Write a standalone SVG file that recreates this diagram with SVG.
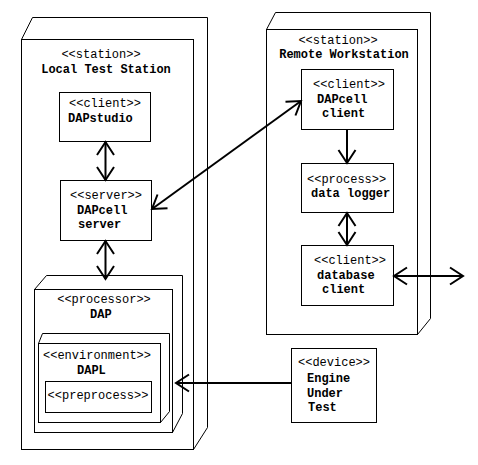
<svg xmlns="http://www.w3.org/2000/svg" width="478" height="465" viewBox="0 0 478 465">
<style>
.box{fill:none;stroke:#000;stroke-width:1}
.st{font-family:"Liberation Mono","Courier New",monospace;font-size:12px;fill:#000}
.nm{font-family:"Liberation Mono","Courier New",monospace;font-size:12px;font-weight:bold;fill:#000}
.c{text-anchor:middle}
.con{fill:none;stroke:#000;stroke-width:2}
</style>
<defs>
<marker id="arr" viewBox="-15 -10 17 20" refX="0" refY="0" markerWidth="17" markerHeight="20" markerUnits="userSpaceOnUse" orient="auto-start-reverse">
<path d="M-13,-8.5 L0,0 L-13,8.5" fill="none" stroke="#000" stroke-width="2"/>
</marker>
</defs>
<rect width="478" height="465" fill="#fff"/>

<g id="local-station">
<rect class="box" x="21.5" y="39.5" width="172" height="410"/>
<path class="box" d="M21.5,39.5 L32.5,17.5 L207.5,17.5 L207.5,427.5 L193.5,449.5"/>
<text class="st c" x="101" y="58">&lt;&lt;station&gt;&gt;</text>
<text class="nm c" x="106" y="73">Local Test Station</text>
</g>

<g id="dapstudio">
<rect class="box" x="59.5" y="92.5" width="91" height="49"/>
<text class="st" x="69" y="107">&lt;&lt;client&gt;&gt;</text>
<text class="nm" x="68" y="122">DAPstudio</text>
</g>

<g id="dapcell-server">
<rect class="box" x="60.5" y="180.5" width="91" height="60"/>
<text class="st" x="70" y="199">&lt;&lt;server&gt;&gt;</text>
<text class="nm" x="77" y="214">DAPcell</text>
<text class="nm" x="78" y="228">server</text>
</g>

<g id="dap-processor">
<rect class="box" x="34.5" y="289.5" width="138" height="143"/>
<path class="box" d="M34.5,289.5 L46.5,275.5 L182.5,275.5 L182.5,413.5 L172.5,432.5"/>
<text class="st c" x="104" y="303">&lt;&lt;processor&gt;&gt;</text>
<text class="nm" x="90" y="318">DAP</text>
</g>

<g id="dapl-environment">
<rect class="box" x="38.5" y="343.5" width="122" height="79"/>
<path class="box" d="M38.5,343.5 L42.5,333.5 L169.5,333.5 L169.5,411.5 L160.5,422.5"/>
<text class="st c" x="97" y="359">&lt;&lt;environment&gt;&gt;</text>
<text class="nm" x="77" y="374">DAPL</text>
</g>

<g id="preprocess">
<rect class="box" x="45.5" y="381.5" width="106" height="31"/>
<text class="st c" x="98" y="399">&lt;&lt;preprocess&gt;&gt;</text>
</g>

<g id="remote-station">
<rect class="box" x="266.5" y="29.5" width="151" height="305"/>
<path class="box" d="M266.5,29.5 L275.5,12.5 L430.5,12.5 L430.5,318.5 L417.5,334.5"/>
<text class="st c" x="338" y="44">&lt;&lt;station&gt;&gt;</text>
<text class="nm c" x="344" y="58">Remote Workstation</text>
</g>

<g id="dapcell-client">
<rect class="box" x="301.5" y="69.5" width="92" height="60"/>
<text class="st" x="313" y="88">&lt;&lt;client&gt;&gt;</text>
<text class="nm" x="317" y="103">DAPcell</text>
<text class="nm" x="322" y="117">client</text>
</g>

<g id="data-logger">
<rect class="box" x="301.5" y="163.5" width="92" height="49"/>
<text class="st" x="307" y="183">&lt;&lt;process&gt;&gt;</text>
<text class="nm" x="311" y="197">data logger</text>
</g>

<g id="database-client">
<rect class="box" x="301.5" y="245.5" width="92" height="60"/>
<text class="st" x="314" y="264">&lt;&lt;client&gt;&gt;</text>
<text class="nm" x="317" y="279">database</text>
<text class="nm" x="322" y="293">client</text>
</g>

<g id="engine-device">
<rect class="box" x="291.5" y="348.5" width="85" height="74"/>
<text class="st" x="298" y="366">&lt;&lt;device&gt;&gt;</text>
<text class="nm" x="307" y="382">Engine</text>
<text class="nm" x="307" y="397">Under</text>
<text class="nm" x="308" y="411">Test</text>
</g>

<g id="connectors">
<line class="con" x1="105.5" y1="142" x2="105.5" y2="180" marker-start="url(#arr)" marker-end="url(#arr)"/>
<line class="con" x1="105.5" y1="241" x2="105.5" y2="279" marker-start="url(#arr)" marker-end="url(#arr)"/>
<line class="con" x1="152" y1="209" x2="301" y2="101" marker-start="url(#arr)" marker-end="url(#arr)"/>
<line class="con" x1="347" y1="130" x2="347" y2="163" marker-end="url(#arr)"/>
<line class="con" x1="347" y1="213" x2="347" y2="245" marker-start="url(#arr)" marker-end="url(#arr)"/>
<line class="con" x1="394" y1="276" x2="463" y2="276" marker-start="url(#arr)" marker-end="url(#arr)"/>
<line class="con" x1="291" y1="383" x2="176" y2="383" marker-end="url(#arr)"/>
</g>
</svg>
